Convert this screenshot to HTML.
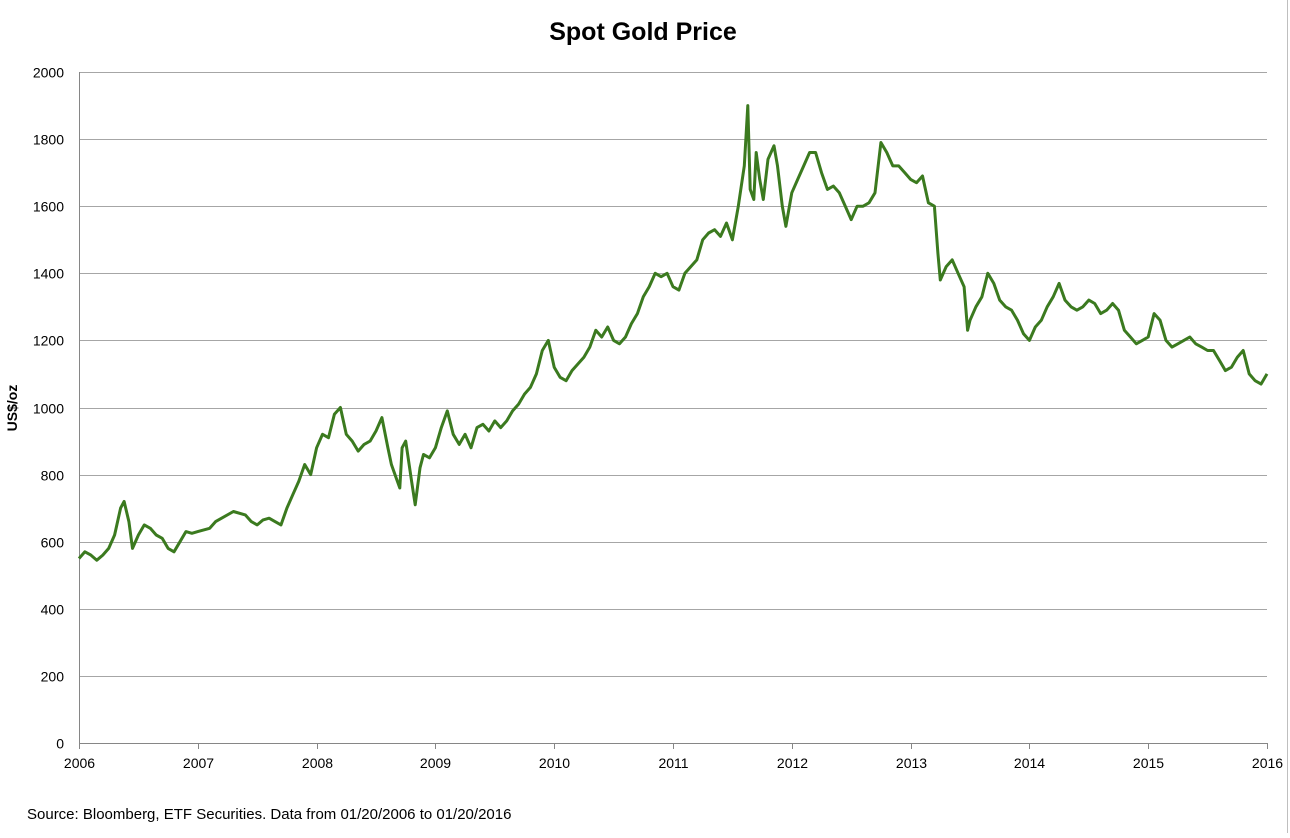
<!DOCTYPE html>
<html><head><meta charset="utf-8"><style>
body{margin:0;background:#fff;width:1290px;height:833px;overflow:hidden;font-family:"Liberation Sans",sans-serif}
</style></head><body>
<svg id="chart" width="1290" height="833" viewBox="0 0 1290 833" xmlns="http://www.w3.org/2000/svg">
<line x1="1287.5" y1="0" x2="1287.5" y2="833" stroke="#bfbfbf"/>
<text x="643" y="40" text-anchor="middle" font-size="25" font-weight="bold" fill="#000">Spot Gold Price</text>
<text transform="translate(17,408) rotate(-90)" text-anchor="middle" font-size="14" font-weight="bold" fill="#000">US$/oz</text>
<text x="27" y="819" font-size="15" fill="#000">Source: Bloomberg, ETF Securities. Data from 01/20/2006 to 01/20/2016</text>
<g id="grid"></g><g id="axes"></g><g id="series"></g>
</svg>
<script>
const yTicks=[0,200,400,600,800,1000,1200,1400,1600,1800,2000];
const xTicks=[2006,2007,2008,2009,2010,2011,2012,2013,2014,2015,2016];
const dates=[2006.0,2006.05,2006.1,2006.15,2006.2,2006.25,2006.3,2006.35,2006.38,2006.42,2006.45,2006.5,2006.55,2006.6,2006.65,2006.7,2006.75,2006.8,2006.85,2006.9,2006.95,
2007.0,2007.1,2007.15,2007.2,2007.3,2007.4,2007.45,2007.5,2007.55,2007.6,2007.65,2007.7,2007.75,2007.8,2007.85,2007.9,2007.95,
2008.0,2008.05,2008.1,2008.15,2008.2,2008.25,2008.3,2008.35,2008.4,2008.45,2008.5,2008.55,2008.6,2008.63,2008.67,2008.7,2008.72,2008.75,2008.8,2008.83,2008.87,2008.9,2008.95,
2009.0,2009.05,2009.1,2009.15,2009.2,2009.25,2009.3,2009.35,2009.4,2009.45,2009.5,2009.55,2009.6,2009.65,2009.7,2009.75,2009.8,2009.85,2009.9,2009.95,
2010.0,2010.05,2010.1,2010.15,2010.2,2010.25,2010.3,2010.35,2010.4,2010.45,2010.5,2010.55,2010.6,2010.65,2010.7,2010.75,2010.8,2010.85,2010.9,2010.95,
2011.0,2011.05,2011.1,2011.15,2011.2,2011.25,2011.3,2011.35,2011.4,2011.45,2011.5,2011.55,2011.6,2011.63,2011.65,2011.68,2011.7,2011.73,2011.76,2011.8,2011.85,2011.88,2011.92,2011.95,
2012.0,2012.05,2012.1,2012.15,2012.2,2012.25,2012.3,2012.35,2012.4,2012.45,2012.5,2012.55,2012.6,2012.65,2012.7,2012.75,2012.8,2012.85,2012.9,2012.95,
2013.0,2013.05,2013.1,2013.15,2013.2,2013.23,2013.25,2013.3,2013.35,2013.4,2013.45,2013.48,2013.5,2013.55,2013.6,2013.65,2013.7,2013.75,2013.8,2013.85,2013.9,2013.95,
2014.0,2014.05,2014.1,2014.15,2014.2,2014.25,2014.3,2014.35,2014.4,2014.45,2014.5,2014.55,2014.6,2014.65,2014.7,2014.75,2014.8,2014.85,2014.9,2014.95,
2015.0,2015.05,2015.1,2015.15,2015.2,2015.25,2015.3,2015.35,2015.4,2015.45,2015.5,2015.55,2015.6,2015.65,2015.7,2015.75,2015.8,2015.85,2015.9,2015.95,2016.0];
const prices=[550,570,560,545,560,580,620,700,720,660,580,620,650,640,620,610,580,570,600,630,625,
630,640,660,670,690,680,660,650,665,670,660,650,700,740,780,830,800,
880,920,910,980,1000,920,900,870,890,900,930,970,880,830,790,760,880,900,780,710,820,860,850,
880,940,990,920,890,920,880,940,950,930,960,940,960,990,1010,1040,1060,1100,1170,1200,
1120,1090,1080,1110,1130,1150,1180,1230,1210,1240,1200,1190,1210,1250,1280,1330,1360,1400,1390,1400,
1360,1350,1400,1420,1440,1500,1520,1530,1510,1550,1500,1600,1720,1900,1650,1620,1760,1680,1620,1740,1780,1720,1600,1540,
1640,1680,1720,1760,1760,1700,1650,1660,1640,1600,1560,1600,1600,1610,1640,1790,1760,1720,1720,1700,
1680,1670,1690,1610,1600,1460,1380,1420,1440,1400,1360,1230,1260,1300,1330,1400,1370,1320,1300,1290,1260,1220,
1200,1240,1260,1300,1330,1370,1320,1300,1290,1300,1320,1310,1280,1290,1310,1290,1230,1210,1190,1200,
1210,1280,1260,1200,1180,1190,1200,1210,1190,1180,1170,1170,1140,1110,1120,1150,1170,1100,1080,1070,1100];
const L=79,R=1267,T=72,B=743;
const xS=v=>L+(v-2006)/10*(R-L);
const yS=v=>B-v/2000*(B-T);
const NS="http://www.w3.org/2000/svg";
const grid=document.getElementById('grid'),axes=document.getElementById('axes'),ser=document.getElementById('series');
yTicks.forEach(t=>{
 const y=Math.round(yS(t))+0.5;
 const ln=document.createElementNS(NS,'line');
 
 
 ln.setAttribute('x1',L);ln.setAttribute('x2',R);ln.setAttribute('y1',y);ln.setAttribute('y2',y);
 ln.setAttribute('stroke',t===0?'#868686':'#a6a6a6');grid.appendChild(ln);
 const tx=document.createElementNS(NS,'text');
 
 
 tx.setAttribute('x',L-15);tx.setAttribute('y',y+5);tx.setAttribute('text-anchor','end');tx.setAttribute('font-size','14');
 tx.textContent=t;axes.appendChild(tx);
});
const ax=document.createElementNS(NS,'line');


ax.setAttribute('x1',L+0.5);ax.setAttribute('x2',L+0.5);ax.setAttribute('y1',T);ax.setAttribute('y2',B);ax.setAttribute('stroke','#868686');axes.appendChild(ax);
xTicks.forEach(t=>{
 const x=Math.round(xS(t))+0.5;
 const tk=document.createElementNS(NS,'line');
 
 
 tk.setAttribute('x1',x);tk.setAttribute('x2',x);tk.setAttribute('y1',B);tk.setAttribute('y2',B+6);tk.setAttribute('stroke','#868686');axes.appendChild(tk);
 const tx=document.createElementNS(NS,'text');
 
 
 tx.setAttribute('x',x);tx.setAttribute('y',B+25);tx.setAttribute('text-anchor','middle');tx.setAttribute('font-size','14');
 tx.textContent=t;axes.appendChild(tx);
});
const p=document.createElementNS(NS,'path');


p.setAttribute('d',dates.map((d,i)=>(i?'L':'M')+xS(d).toFixed(1)+','+yS(prices[i]).toFixed(1)).join(''));
p.setAttribute('fill','none');p.setAttribute('stroke','#3b7a1f');p.setAttribute('stroke-width','3');p.setAttribute('stroke-linejoin','round');
ser.appendChild(p);
</script>
</body></html>
